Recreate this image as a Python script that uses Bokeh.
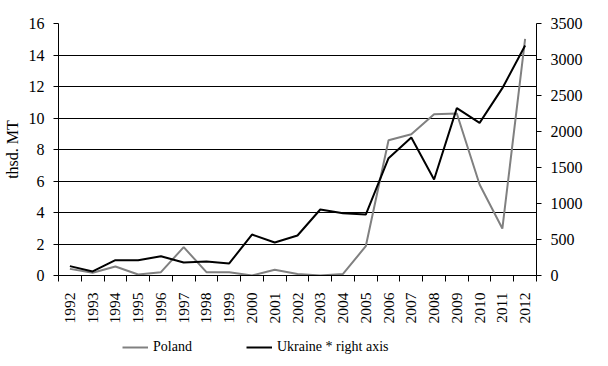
import math
from bokeh.plotting import figure
from bokeh.layouts import column
from bokeh.models import Range1d, LinearAxis, FixedTicker, Legend, LegendItem
from bokeh.embed import file_html
from bokeh.resources import INLINE

years = [str(y) for y in range(1992, 2013)]
poland = [0.42, 0.17, 0.57, 0.06, 0.21, 1.8, 0.21, 0.2, 0.0, 0.36, 0.1, 0.0, 0.1,
          1.86, 8.59, 8.97, 10.24, 10.29, 5.78, 2.98, 15.03]
ukraine = [130, 56, 213, 213, 268, 181, 194, 167, 569, 458, 556, 917, 866, 847,
           1630, 1917, 1333, 2324, 2120, 2602, 3194]
left_ticks = [0, 2, 4, 6, 8, 10, 12, 14, 16]
right_ticks = [0, 500, 1000, 1500, 2000, 2500, 3000, 3500]
series_names = ["Poland", "Ukraine * right axis"]
series_colors = ["#808080", "black"]

FONT = "Liberation Serif"
xs = [i + 0.5 for i in range(len(years))]

p = figure(output_backend="svg", toolbar_location=None,
           x_range=Range1d(0, len(years)), y_range=Range1d(0, 16),
           frame_width=478, frame_height=252,
           min_border_left=56, min_border_top=23, min_border_right=10, min_border_bottom=0)
p.outline_line_color = None
p.background_fill_color = "white"
p.border_fill_color = "white"
p.extra_y_ranges = {"right": Range1d(0, 3500)}

p.xgrid.visible = False
p.ygrid.ticker = FixedTicker(ticks=left_ticks)
p.ygrid.grid_line_color = "black"
p.ygrid.grid_line_width = 1

# x axis
xa = p.xaxis[0]
xa.ticker = FixedTicker(ticks=xs, minor_ticks=list(range(len(years) + 1)))
xa.major_label_overrides = {x: y for x, y in zip(xs, years)}
xa.major_label_orientation = math.pi / 2
xa.major_tick_out = 0
xa.major_tick_in = 0
xa.minor_tick_out = 6
xa.minor_tick_in = 0
xa.minor_tick_line_color = "black"
xa.axis_line_color = "black"
xa.major_label_text_font = FONT
xa.major_label_text_font_size = "15.5px"
xa.major_label_text_color = "black"
xa.major_label_standoff = 11

# left axis
ya = p.yaxis[0]
ya.ticker = FixedTicker(ticks=left_ticks)
ya.minor_tick_line_color = None
ya.major_tick_out = 5
ya.major_tick_in = 0
ya.axis_line_color = "black"
ya.major_tick_line_color = "black"
ya.major_label_text_font = FONT
ya.major_label_text_font_size = "16px"
ya.major_label_text_color = "black"
ya.major_label_standoff = 9
ya.axis_label = "thsd. MT"
ya.axis_label_text_font = FONT
ya.axis_label_text_font_size = "16px"
ya.axis_label_text_font_style = "normal"
ya.axis_label_text_color = "black"
ya.axis_label_standoff = 5

# right axis
ra = LinearAxis(y_range_name="right", ticker=FixedTicker(ticks=right_ticks))
ra.minor_tick_line_color = None
ra.major_tick_out = 5
ra.major_tick_in = 0
ra.axis_line_color = "black"
ra.major_tick_line_color = "black"
ra.major_label_text_font = FONT
ra.major_label_text_font_size = "16px"
ra.major_label_text_color = "black"
ra.major_label_standoff = 9
p.add_layout(ra, "right")

p.line(xs, poland, line_color=series_colors[0], line_width=2)
p.line(xs, ukraine, line_color=series_colors[1], line_width=2, y_range_name="right")

# legend strip (its lines lie outside its own view; only the legend shows)
lg = figure(output_backend="svg", toolbar_location=None, width=592, height=40,
            x_range=Range1d(1000, 1001), y_range=Range1d(1000, 1001),
            x_axis_location=None, y_axis_location=None,
            min_border_left=0, min_border_right=0, min_border_top=0, min_border_bottom=0)
lg.grid.visible = False
lg.outline_line_color = None
items = []
for name, col, vals in zip(series_names, series_colors, [poland, ukraine]):
    r = lg.line(xs, vals, line_color=col, line_width=2)
    items.append(LegendItem(label=name, renderers=[r]))
legend = Legend(items=items, orientation="horizontal", location=(64, 9),
                label_text_font=FONT, label_text_font_size="14px",
                label_text_color="black", glyph_width=26, spacing=54,
                border_line_color=None, background_fill_alpha=0,
                label_standoff=5, margin=0, padding=3)
lg.add_layout(legend)

open("out.html", "w").write(file_html(column(p, lg, spacing=0), INLINE))
